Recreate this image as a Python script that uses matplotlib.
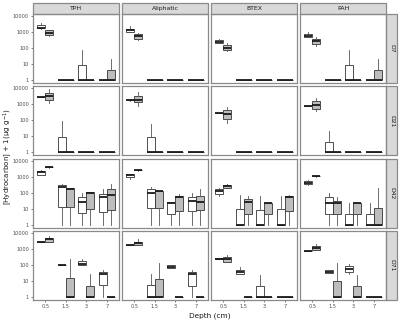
import matplotlib
matplotlib.use("Agg")
import matplotlib.pyplot as plt
from matplotlib.patches import Rectangle

# ---------------- data ----------------
compounds = ["TPH", "Aliphatic", "BTEX", "PAH"]
days = ["D7", "D21", "D42", "D71"]
depths = ["0.5", "1.5", "3", "7"]
y_ticks = [1, 10, 100, 1000, 10000]
y_tick_labels = ["1", "10", "100", "1000", "10000"]
series_fill = ["white", "#bdbdbd"]   # first / second box of each depth

# each panel: 8 boxes ordered (0.5 A, 0.5 B, 1.5 A, 1.5 B, 3 A, 3 B, 7 A, 7 B)
# box = [whisker low, Q1, median, Q3, whisker high]  ([hydrocarbon] + 1, ug/g)
one = [1, 1, 1, 1, 1]

tph_d7 = [[1600, 1780, 1860, 2690, 3630], [540, 690, 910, 1260, 1410],
          one, one, [1, 1, 1, 9.3, 80], one, one, [1, 1, 1, 4.6, 21]]
ali_d7 = [[1050, 1050, 1260, 1620, 2240], [300, 390, 540, 720, 870],
          one, one, one, one, one, one]
btex_d7 = [[209, 209, 240, 302, 363], [63, 81, 107, 148, 209],
           one, one, one, one, one, one]
pah_d7 = [[490, 490, 600, 794, 977], [135, 190, 275, 363, 490],
          one, one, [1, 1, 1, 9.3, 80], one, one, [1, 1, 1, 4.6, 21]]

tph_d21 = [[2800, 2850, 2900, 2950, 3000], [1250, 1820, 3240, 5250, 8700],
           [1, 1, 1, 9, 93], one, one, one, one, one]
ali_d21 = [[1700, 1750, 1800, 1850, 1900], [794, 1320, 2000, 3240, 5620],
           [1, 1, 1, 9, 62], one, one, one, one, one]
btex_d21 = [[280, 282, 288, 292, 295], [68, 115, 240, 427, 692],
            one, one, one, one, one, one]
pah_d21 = [[740, 750, 760, 770, 780], [370, 490, 980, 1580, 2570],
           [1, 1, 1, 4.3, 21], one, one, one, one, one]

tph_d42 = [[1200, 1320, 1860, 2400, 2750], [3700, 3750, 3800, 3850, 3900],
           [1, 13.5, 224, 316, 363], [1, 12.6, 178, 195, 200],
           [1, 5.2, 28, 50, 93], [1, 9.3, 100, 110, 112],
           [1, 6.6, 50, 85, 178], [1, 8.3, 74, 170, 347]]
ali_d42 = [[741, 1000, 1260, 1480, 1480], [2400, 2450, 2500, 2550, 2600],
           [1, 10.7, 102, 170, 224], [1, 10.7, 120, 132, 132],
           [1, 4.7, 24, 24.5, 25], [1, 7.6, 50, 57.5, 85],
           [1, 7.6, 32, 50, 93], [1, 8.3, 28, 66, 170]]
btex_d42 = [[66, 85, 120, 170, 195], [195, 195, 245, 282, 347],
            [1, 1, 1, 9.3, 74], [1, 4.7, 28, 40, 57.5],
            [1, 1, 1, 8.3, 66], [1, 4.5, 22, 22.4, 22.4],
            [1, 1, 1, 9.3, 66], [1, 7.6, 50, 57.5, 74]]
pah_d42 = [[300, 347, 380, 562, 600], [1000, 1020, 1047, 1060, 1080],
           [1, 4.7, 24, 50, 102], [1, 4.7, 24, 32, 50],
           [1, 1, 1, 4.7, 22.4], [1, 4.5, 22, 22.4, 22.4],
           [1, 1, 1, 4.7, 22.4], [1, 1, 1, 10.7, 195]]

tph_d71 = [[2600, 2700, 2750, 2800, 2850], [2600, 2750, 3890, 5000, 6460],
           [95, 97, 98, 99, 100], [1, 1, 1, 15.8, 234],
           [98, 98, 120, 166, 234], [1, 1, 1, 5, 25.7],
           [1, 5.4, 28, 36, 49], one]
ali_d71 = [[1650, 1680, 1700, 1720, 1750], [1700, 1700, 2290, 2750, 3890],
           [1, 1, 1, 5.4, 25.7], [1, 1, 1, 12.3, 126],
           [63, 63, 79, 98, 98], one,
           [1, 5, 28, 36, 49], one]
btex_d71 = [[240, 245, 251, 255, 260], [158, 158, 224, 316, 407],
            [27.5, 27.5, 34.7, 46.8, 72], one,
            [1, 1, 1, 4.9, 24.5], one, one, one]
pah_d71 = [[720, 730, 741, 750, 760], [870, 890, 1200, 1620, 2040],
           [33, 33, 38, 49, 49], [1, 1, 1, 10.2, 138],
           [28, 35, 57.5, 83, 120], [1, 1, 1, 4.9, 24.5], one, one]

panels = [
    [tph_d7, ali_d7, btex_d7, pah_d7],
    [tph_d21, ali_d21, btex_d21, pah_d21],
    [tph_d42, ali_d42, btex_d42, pah_d42],
    [tph_d71, ali_d71, btex_d71, pah_d71],
]

# ---------------- figure ----------------
plt.rcParams['font.family'] = ['DejaVu Sans']
fig, axes = plt.subplots(4, 4, figsize=(4.0, 3.2), dpi=100, sharex=True, sharey=True)
fig.subplots_adjust(left=0.0825, right=0.965, top=0.956, bottom=0.0625,
                    wspace=0.035, hspace=0.045)

border_col = "#8a8a8a"
line_col = "#333333"
strip_fill = "#d9d9d9"
panel_w_px = 86.0
panel_h_px = 69.5

for r in range(4):
    for c in range(4):
        ax = axes[r][c]
        boxes = panels[r][c]
        stats = []
        positions = []
        for i, b in enumerate(boxes):
            stats.append(dict(whislo=b[0], q1=b[1], med=b[2], q3=b[3], whishi=b[4], fliers=[]))
            positions.append((i // 2) + 1 + (-0.2 if i % 2 == 0 else 0.2))
        art = ax.bxp(stats, positions=positions, widths=0.4, patch_artist=True,
                     showcaps=False, showfliers=False,
                     boxprops=dict(edgecolor=line_col, linewidth=0.6),
                     whiskerprops=dict(color="#555555", linewidth=0.6),
                     medianprops=dict(color="#1a1a1a", linewidth=1.3, solid_capstyle="butt"),
                     manage_ticks=False)
        for i, patch in enumerate(art["boxes"]):
            patch.set_facecolor(series_fill[i % 2])
        ax.set_yscale("log")
        ax.set_ylim(10 ** -0.19, 10 ** 4.125)
        ax.set_xlim(0.4, 4.6)
        ax.set_xticks([1, 2, 3, 4])
        ax.set_xticklabels(depths)
        ax.set_yticks(y_ticks)
        ax.set_yticklabels(y_tick_labels)
        ax.minorticks_off()
        ax.tick_params(axis="both", labelsize=3.6, colors="#4d4d4d", length=1.5,
                       width=0.5, pad=1.3)
        for s in ax.spines.values():
            s.set_color(border_col)
            s.set_linewidth(0.9)
        if c != 0:
            ax.tick_params(axis="y", left=False, labelleft=False)
        if r != 3:
            ax.tick_params(axis="x", bottom=False, labelbottom=False)
        # top strips
        if r == 0:
            h = 11.0 / panel_h_px
            ax.add_patch(Rectangle((0, 1.0), 1, h, transform=ax.transAxes,
                                   facecolor=strip_fill, edgecolor=border_col,
                                   linewidth=0.9, clip_on=False))
            ax.text(0.5, 1.0 + h / 2, compounds[c], transform=ax.transAxes,
                    ha="center", va="center", fontsize=4.4, color="#1a1a1a")
        # right strips
        if c == 3:
            w = 11.0 / panel_w_px
            ax.add_patch(Rectangle((1.0, 0), w, 1, transform=ax.transAxes,
                                   facecolor=strip_fill, edgecolor=border_col,
                                   linewidth=0.9, clip_on=False))
            ax.text(1.0 + w / 2, 0.5, days[r], transform=ax.transAxes,
                    ha="center", va="center", rotation=-90, fontsize=4.4,
                    color="#1a1a1a")

fig.text(0.524, 0.004, "Depth (cm)", ha="center", va="bottom", fontsize=5.3, color="#1a1a1a")
fig.text(0.004, 0.51, "[Hydrocarbon] + 1(\u03bcg g$^{-1}$)", ha="left", va="center",
         rotation=90, fontsize=5.1, color="#1a1a1a")

fig.savefig("out.png", dpi=100, facecolor="white")
